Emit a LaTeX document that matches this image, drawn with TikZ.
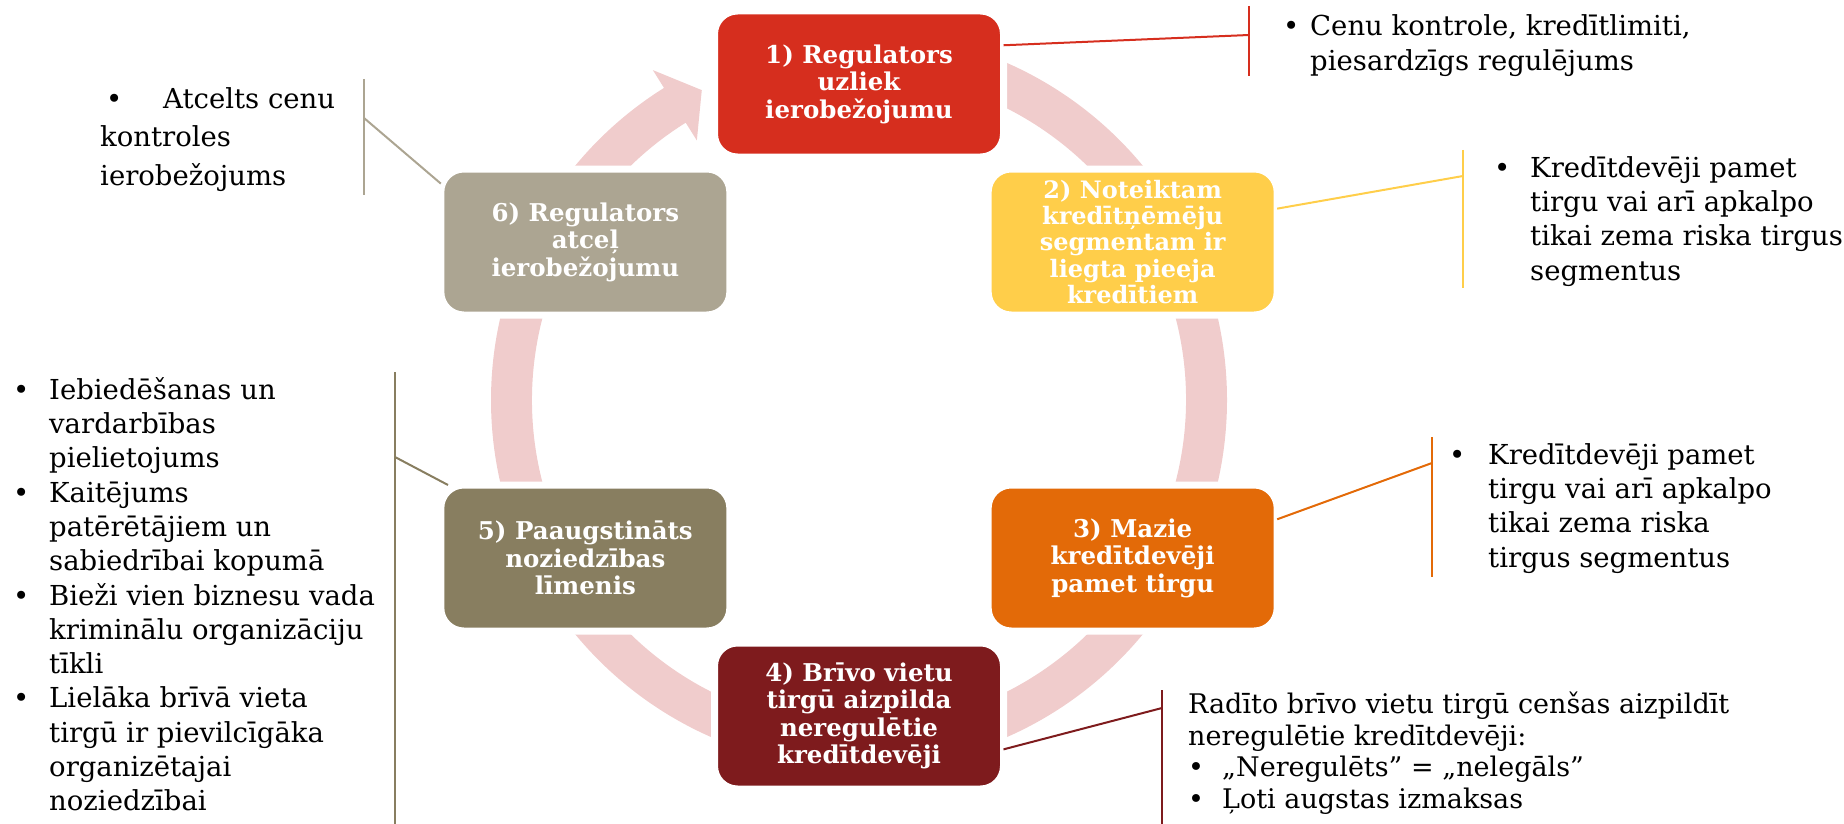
\documentclass[tikz,border=0pt]{standalone}
\usepackage{fontspec}
\setmainfont{DejaVu Serif}
\definecolor{stagered}{RGB}{214,46,30}
\definecolor{stageyellow}{RGB}{255,206,74}
\definecolor{stageorange}{RGB}{227,106,8}
\definecolor{stagemaroon}{RGB}{126,27,29}
\definecolor{stageolive}{RGB}{136,126,96}
\definecolor{stagetaupe}{RGB}{172,165,146}
\definecolor{ringpink}{RGB}{240,204,204}
\newcommand{\blt}[1]{\makebox[#1][l]{\textbullet}}
\newcommand{\ind}[1]{\makebox[#1]{}}
\tikzset{
  stage/.style={rectangle, rounded corners=23pt, draw=white, line width=7pt,
    minimum width=289pt, minimum height=146pt, inner sep=0pt, outer sep=0pt,
    align=center, text=white, font=\bfseries\fontsize{24.5}{27.5}\selectfont},
  note/.style={anchor=north west, inner sep=0pt, align=left,
    font=\fontsize{27.5}{34.3}\selectfont},
  tie/.style={line width=2pt}
}
\begin{document}
\begin{tikzpicture}[x=1pt, y=-1pt]
  \useasboundingbox (0,0) rectangle (1844,824);
  \begin{scope}[shift={(859,400)}]
    % circular arrow behind the stages
    \fill[ringpink] (-90:368) arc[start angle=-90, end angle=238, radius=368]
      -- (238:389) -- (243.1:347.5) -- (238:306) -- (238:327)
      arc[start angle=238, end angle=-90, radius=327] -- cycle;
    \node[stage, fill=stagered] (impose) at (-90:316) {1) Regulators\\uzliek\\ierobežojumu};
    \node[stage, fill=stageyellow, font=\bfseries\fontsize{24}{26.3}\selectfont] (deny) at (-30:316)
      {2) Noteiktam\\kredītņēmēju\\segmentam ir\\liegta pieeja\\kredītiem};
    \node[stage, fill=stageorange] (leave) at (30:316) {3) Mazie\\kredītdevēji\\pamet tirgu};
    \node[stage, fill=stagemaroon] (fill) at (90:316) {4) Brīvo vietu\\tirgū aizpilda\\neregulētie\\kredītdevēji};
    \node[stage, fill=stageolive] (crime) at (150:316) {5) Paaugstināts\\noziedzības\\līmenis};
    \node[stage, fill=stagetaupe] (lift) at (210:316) {6) Regulators\\atceļ\\ierobežojumu};
  \end{scope}

  % 1)
  \coordinate (k1) at (1249,35);
  \draw[tie, stagered] (impose.15) -- (k1);
  \draw[tie, stagered] (1249,6) -- (1249,76);
  \node[note, font=\fontsize{27.5}{35}\selectfont] (t1) at (1283,11)
    {\strut\blt{27pt}Cenu kontrole, kredītlimiti,\\\ind{27pt}piesardzīgs regulējums};

  % 2)
  \coordinate (k2) at (1463,176);
  \draw[tie, stageyellow] (deny.13) -- (k2);
  \draw[tie, stageyellow] (1463,150) -- (1463,288);
  \node[note] (t2) at (1494,153)
    {\strut\blt{36pt}Kredītdevēji pamet\\\ind{36pt}tirgu vai arī apkalpo\\\ind{36pt}tikai zema riska tirgus\\\ind{36pt}segmentus};

  % 3)
  \coordinate (k3) at (1432,463);
  \draw[tie, stageorange] (leave.15) -- (k3);
  \draw[tie, stageorange] (1432,437) -- (1432,577);
  \node[note] (t3) at (1449,440)
    {\strut\blt{39pt}Kredītdevēji pamet\\\ind{39pt}tirgu vai arī apkalpo\\\ind{39pt}tikai zema riska\\\ind{39pt}tirgus segmentus};

  % 4)
  \coordinate (k4) at (1162,708);
  \draw[tie, stagemaroon] (fill.-13) -- (k4);
  \draw[tie, stagemaroon] (1162,690) -- (1162,824);
  \node[note, font=\fontsize{27}{31.7}\selectfont] (t4) at (1188,691)
    {\strut Radīto brīvo vietu tirgū cenšas aizpildīt\\neregulētie kredītdevēji:\\\blt{34pt}„Neregulēts” = „nelegāls”\\\blt{34pt}Ļoti augstas izmaksas};

  % 5)
  \coordinate (k5) at (395,457);
  \draw[tie, stageolive] (crime.152) -- (k5);
  \draw[tie, stageolive] (395,372) -- (395,824);
  \node[note] (t5) at (13,375)
    {\strut\blt{36pt}Iebiedēšanas un\\\ind{36pt}vardarbības\\\ind{36pt}pielietojums\\
     \blt{36pt}Kaitējums\\\ind{36pt}patērētājiem un\\\ind{36pt}sabiedrībai kopumā\\
     \blt{36pt}Bieži vien biznesu vada\\\ind{36pt}kriminālu organizāciju\\\ind{36pt}tīkli\\
     \blt{36pt}Lielāka brīvā vieta\\\ind{36pt}tirgū ir pievilcīgāka\\\ind{36pt}organizētajai\\\ind{36pt}noziedzībai};

  % 6)
  \coordinate (k6) at (364,118);
  \draw[tie, stagetaupe] (lift.158) -- (k6);
  \draw[tie, stagetaupe] (364,79) -- (364,195);
  \node[note, font=\fontsize{27.5}{38.5}\selectfont] (t6) at (100,81)
    {\strut\ind{6pt}\blt{57pt}Atcelts cenu\\kontroles\\ierobežojums};
\end{tikzpicture}
\end{document}
